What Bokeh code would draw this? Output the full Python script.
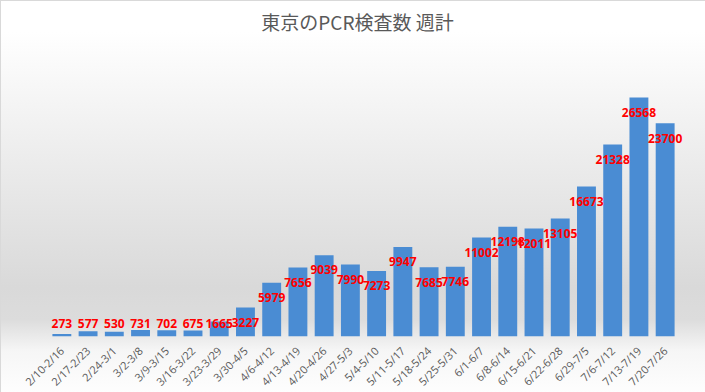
import math
from bokeh.plotting import figure
from bokeh.layouts import column
from bokeh.models import ColumnDataSource, Range1d, Div
from bokeh.core.properties import value
from bokeh.embed import file_html
from bokeh.resources import INLINE

weeks = ["2/10-2/16", "2/17-2/23", "2/24-3/1", "3/2-3/8", "3/9-3/15", "3/16-3/22",
         "3/23-3/29", "3/30-4/5", "4/6-4/12", "4/13-4/19", "4/20-4/26", "4/27-5/3",
         "5/4-5/10", "5/11-5/17", "5/18-5/24", "5/25-5/31", "6/1-6/7", "6/8-6/14",
         "6/15-6/21", "6/22-6/28", "6/29-7/5", "7/6-7/12", "7/13-7/19", "7/20-7/26"]
tests = [273, 577, 530, 731, 702, 675, 1665, 3227, 5979, 7656, 9039, 7990,
         7273, 9947, 7685, 7746, 11002, 12198, 12011, 13105, 16673, 21328, 26568, 23700]
title_text = "東京のPCR検査数 週計"

label_y = [max(v - 1650, 1400) for v in tests]
source = ColumnDataSource(dict(week=weeks, tests=tests, label=[str(v) for v in tests], label_y=label_y))

title_div = Div(text=title_text, width=705, height=56,
                styles={"text-align": "center", "font-family": "'Noto Sans CJK JP'",
                        "font-size": "19px", "color": "#595959", "line-height": "27px",
                        "padding-top": "3px"})

p = figure(x_range=weeks, y_range=Range1d(0, 30000),
           frame_width=682, frame_height=270,
           output_backend="svg", toolbar_location=None,
           min_border_left=22, min_border_right=1, min_border_top=0, min_border_bottom=63)
p.border_fill_alpha = 0
p.background_fill_alpha = 0
p.outline_line_color = None

p.vbar(x="week", top="tests", width=0.72, source=source, fill_color="#4a8cd3", line_color=None)
p.text(x="week", y="label_y", text="label", source=source, text_align="center", text_baseline="middle",
       text_color="#ff0000", text_font=value("Open Sans"), text_font_style="bold", text_font_size="12px")

p.yaxis.visible = False
p.xgrid.grid_line_color = None
p.ygrid.grid_line_color = None
p.x_range.range_padding_units = "absolute"
p.x_range.range_padding = 1.0
p.xaxis.axis_line_color = None
p.xaxis.major_tick_line_color = None
p.xaxis.minor_tick_line_color = None
p.xaxis.major_label_orientation = math.pi / 4
p.xaxis.major_label_text_font = "Open Sans"
p.xaxis.major_label_text_font_size = "11px"
p.xaxis.major_label_text_color = "#595959"
p.xaxis.major_label_standoff = 6

layout = column(title_div, p, spacing=0,
                styles={"background": "linear-gradient(to bottom, #ffffff 8%, #ececec 40%, #d9d9d9 72%, #dcdcdc 80%, #f6f6f6 88%, #ffffff 100%)",
                        "outline": "1px solid #d9d9d9", "outline-offset": "-1px"})

open("out.html", "w").write(file_html(layout, INLINE))
